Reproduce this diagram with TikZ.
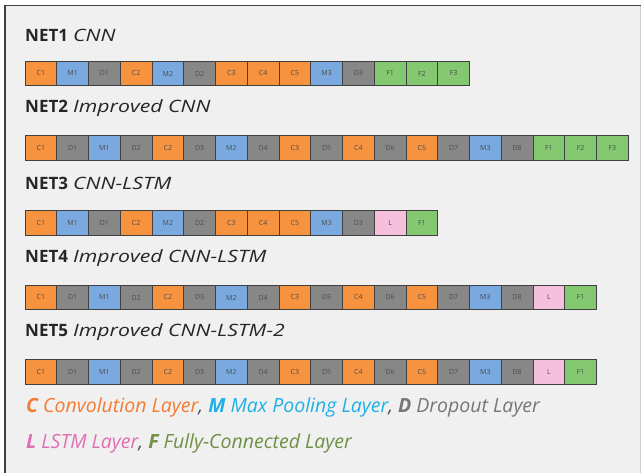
\documentclass[tikz,border=0pt]{standalone}
\usepackage{fontspec}
\setmainfont{Open Sans}
\newfontfamily\wideit{Open Sans}[FakeStretch=1.25]
\usetikzlibrary{positioning}
\definecolor{frame_bg}{HTML}{F0F0F0}
\definecolor{conv_orange}{HTML}{F7923F}
\definecolor{pool_blue}{HTML}{79A9DF}
\definecolor{drop_gray}{HTML}{878787}
\definecolor{lstm_pink}{HTML}{F6C0DD}
\definecolor{fc_green}{HTML}{84C871}
\definecolor{leg_orange}{HTML}{F47B32}
\definecolor{leg_blue}{HTML}{1EB0E6}
\definecolor{leg_gray}{HTML}{767676}
\definecolor{leg_pink}{HTML}{E06EB3}
\definecolor{leg_green}{HTML}{6F8F45}
\newcommand{\nettitle}[2]{\textbf{#1}\hspace{5pt}{\wideit\itshape #2}}
\tikzset{
  layer/.style={draw=black!75, line width=0.6pt, minimum width=31.75pt, minimum height=24.5pt,
    inner sep=0pt, font=\fontsize{7}{8}\selectfont, text=black!70},
  layC/.style={layer, fill=conv_orange},
  layM/.style={layer, fill=pool_blue},
  layD/.style={layer, fill=drop_gray},
  layL/.style={layer, fill=lstm_pink},
  layF/.style={layer, fill=fc_green},
  titlebox/.style={anchor=west, inner sep=0pt, font=\fontsize{17}{20}\selectfont, text=black!85},
  legendline/.style={anchor=west, inner sep=0pt, font=\fontsize{19.5}{23}\selectfont\itshape, text=black!70}
}

\begin{document}
\begin{tikzpicture}[x=1pt, y=-1pt]
            \useasboundingbox (0,0) rectangle (641,473);
            \fill[white] (0,0) rectangle (641,473);
            \fill[frame_bg] (4,5) rectangle (641,473);
            \draw[black!75, line width=1.5pt] (4.75,473) -- (4.75,5.75) -- (641,5.75);
            \draw[black!20, line width=0.8pt] (640.5,6.5) -- (640.5,473);
            % network titles
            \node[titlebox] (title1) at (25,35) {\nettitle{NET1}{CNN}};
            \node[titlebox] (title2) at (25,108.5) {\nettitle{NET2}{Improved CNN}};
            \node[titlebox] (title3) at (25,183.5) {\nettitle{NET3}{CNN-LSTM}};
            \node[titlebox] (title4) at (25,258) {\nettitle{NET4}{Improved CNN-LSTM}};
            \node[titlebox] (title5) at (25,332.5) {\nettitle{NET5}{Improved CNN-LSTM-2}};
            % layer rows
            \foreach \t/\n [count=\i] in {C/1,M/1,D/1,C/2,M/2,D/2,C/3,C/4,C/5,M/3,D/3,F/1,F/2,F/3}
                \node[lay\t] (net1-\i) at ({9.125+31.75*\i}, 73.5) {\t\n};
            \foreach \t/\n [count=\i] in {C/1,D/1,M/1,D/2,C/2,D/3,M/2,D/4,C/3,D/5,C/4,D/6,C/5,D/7,M/3,D/8,F/1,F/2,F/3}
                \node[lay\t] (net2-\i) at ({9.125+31.75*\i}, 148) {\t\n};
            \foreach \t/\n [count=\i] in {C/1,M/1,D/1,C/2,M/2,D/2,C/3,C/4,C/5,M/3,D/3,L/{},F/1}
                \node[lay\t] (net3-\i) at ({9.125+31.75*\i}, 223) {\t\n};
            \foreach \t/\n [count=\i] in {C/1,D/1,M/1,D/2,C/2,D/3,M/2,D/4,C/3,D/5,C/4,D/6,C/5,D/7,M/3,D/8,L/{},F/1}
                \node[lay\t] (net4-\i) at ({9.125+31.75*\i}, 297.5) {\t\n};
            \foreach \t/\n [count=\i] in {C/1,D/1,M/1,D/2,C/2,D/3,M/2,D/4,C/3,D/5,C/4,D/6,C/5,D/7,M/3,D/8,L/{},F/1}
                \node[lay\t] (net5-\i) at ({9.125+31.75*\i}, 371.7) {\t\n};
            % legend
            \node[legendline] (legend1) at (26,407.5) {\textcolor{leg_orange}{\textbf{C} Convolution Layer}, \textcolor{leg_blue}{\textbf{M} Max Pooling Layer}, \textcolor{leg_gray}{\textbf{D} Dropout Layer}};
            \node[legendline] (legend2) at (26,443.5) {\textcolor{leg_pink}{\textbf{L} LSTM Layer}, \textcolor{leg_green}{\textbf{F} Fully-Connected Layer}};
        \end{tikzpicture}
\end{document}
